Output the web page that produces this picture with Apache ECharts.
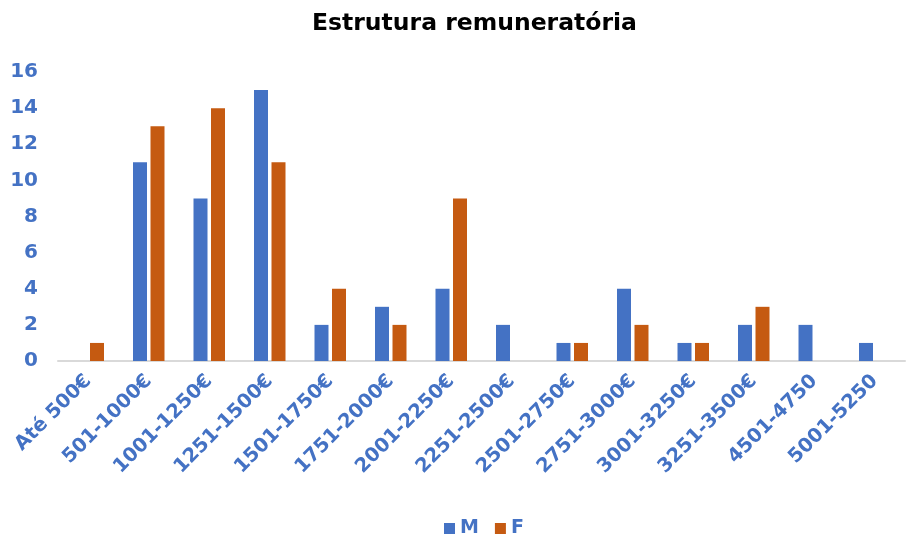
<!DOCTYPE html>
<html><head><meta charset="utf-8">
<script src="https://cdn.jsdelivr.net/npm/echarts@6/dist/echarts.min.js"></script>
<style>html,body{margin:0;padding:0;background:#fff}#c{width:907px;height:535px}</style>
</head><body><div id="c"></div>
<script>
const categories = ['Até 500€','501-1000€','1001-1250€','1251-1500€','1501-1750€','1751-2000€','2001-2250€','2251-2500€','2501-2750€','2751-3000€','3001-3250€','3251-3500€','4501-4750','5001-5250'];
const seriesM = [0,11,9,15,2,3,4,2,1,4,1,2,2,1];
const seriesF = [1,13,14,11,4,2,9,0,1,2,1,3,0,0];
const yTicks = {min:0, max:16, interval:2};
const font = 'DejaVu Sans';
const blue = '#4472C4', orange = '#C55A11';
const chart = echarts.init(document.getElementById('c'), null, {renderer:'canvas'});
chart.setOption({
  animation:false,
  title:{text:'Estrutura remuneratória', left:307, top:7,
    textStyle:{fontFamily:font, fontWeight:'bold', fontSize:23.5, color:'#000'}},
  legend:{top:514, left:439, itemWidth:11, itemHeight:11, itemGap:16, icon:'rect',
    textStyle:{fontFamily:font, fontWeight:'bold', fontSize:19, color:blue}},
  grid:{left:58, right:2, top:72, bottom:174},
  xAxis:{type:'category', data:categories,
    axisLine:{lineStyle:{color:'#D9D9D9', width:2}},
    axisTick:{show:false},
    axisLabel:{rotate:45, interval:0, margin:17, fontFamily:font, fontWeight:'bold', fontSize:19.5, color:blue}},
  yAxis:{type:'value', min:yTicks.min, max:yTicks.max, interval:yTicks.interval,
    splitLine:{show:false}, axisLine:{show:false}, axisTick:{show:false},
    axisLabel:{margin:20, fontFamily:font, fontWeight:'bold', fontSize:20, color:blue}},
  series:[
    {name:'M', type:'bar', data:seriesM, barWidth:14, barGap:'25%', itemStyle:{color:blue}},
    {name:'F', type:'bar', data:seriesF, barWidth:14, itemStyle:{color:orange}}
  ]
});
</script></body></html>
